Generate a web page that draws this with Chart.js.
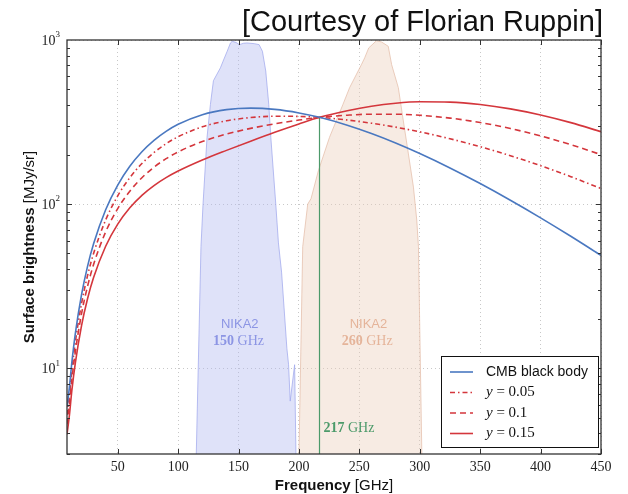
<!DOCTYPE html>
<html>
<head>
<meta charset="utf-8">
<script src="https://cdn.jsdelivr.net/npm/chart.js@4.4.1/dist/chart.umd.min.js"></script>
<style>
  html, body { margin: 0; padding: 0; background: #fff; }
</style>
</head>
<body>
<canvas id="sedChart" width="628" height="494"></canvas>
<script>
// frequencies in GHz, brightness in MJy/sr
const freqs = [8, 10, 12, 15, 20, 25, 30, 40, 50, 60, 70, 80, 90, 100, 120, 140, 160, 180, 200, 217, 240, 260, 280, 300, 325, 350, 375, 400, 425, 450];
const cmbBody = [5.8, 7.67, 10.84, 16.48, 27.98, 41.71, 57.27, 92.40, 130.7, 169.95, 208.38, 244.56, 277.47, 306.41, 350.70, 376.23, 384.26, 377.56, 359.48, 337.8, 302.43, 269.18, 235.66, 203.36, 166.16, 133.47, 105.61, 82.49, 63.68, 48.66];
const sz005 = [5.2, 6.84, 9.66, 14.62, 24.70, 36.64, 50.07, 80.06, 112.29, 144.93, 176.60, 206.26, 233.28, 257.28, 295.67, 321.66, 336.81, 343.08, 342.31, 337.8, 325.27, 311.15, 294.36, 275.58, 250.20, 223.75, 197.19, 171.38, 146.99, 124.49];
const sz01 = [4.55, 6.00, 8.48, 12.75, 21.41, 31.57, 42.87, 67.71, 93.89, 119.92, 144.82, 167.96, 189.09, 208.15, 240.63, 267.09, 289.36, 308.60, 325.13, 337.8, 348.10, 353.12, 353.06, 347.79, 334.24, 314.03, 288.77, 260.28, 230.30, 200.32];
const sz015 = [3.95, 5.17, 7.30, 10.89, 18.13, 26.49, 35.67, 55.37, 75.48, 94.91, 113.05, 129.67, 144.89, 159.02, 185.59, 212.52, 241.91, 274.12, 307.95, 337.8, 370.94, 395.10, 411.77, 420.01, 418.28, 404.31, 380.35, 349.18, 313.60, 276.15];

// NIKA2 bandpasses (arbitrary units, drawn on the same axis)
const band150Freq = [115, 118.9, 120.6, 123.9, 126.7, 129.2, 135, 137.2, 140.6, 143.3, 144.75, 148, 150.8, 154, 157, 163, 167, 169.75, 172.5, 175, 176.7, 180.8, 183, 185.6, 190, 191.4, 192.75, 196.4, 197.5];
const band150Val = [3, 55, 100, 255, 405, 565, 677, 743, 854, 959, 982, 965, 937, 955, 959, 950, 937, 854, 647, 405, 255, 100, 58, 38.5, 13.2, 10.5, 6.3, 10.5, 3];
const band260Freq = [200, 203.1, 207.25, 210, 216.1, 225.25, 236.4, 241.9, 251.7, 254.4, 257.75, 264.2, 268.3, 273.9, 276.7, 282.25, 286.4, 290.6, 294.75, 297.5, 298.9, 301.7];
const band260Val = [3, 55, 100, 108, 160, 255, 405, 512, 708, 778, 895, 990, 973, 916, 708, 512, 321, 202, 127, 80, 55, 3];

const nullFreq = 217;
const nullLine = [337.8, 3];

const xTicks = [50, 100, 150, 200, 250, 300, 350, 400, 450];
const yTicks = [10, 100, 1000];
const yExp = ['1', '2', '3'];

const blue = '#4a78c0';
const red = '#d4363c';
const green = '#4c9a6a';
const serif = '"Liberation Serif", serif';
const sans = '"Liberation Sans", Arial, sans-serif';

const xy = (xs, ys) => xs.map((x, i) => ({ x: x, y: ys[i] }));

function mixedText(ctx, parts, x, y, align) {
  let w = 0;
  parts.forEach(p => { ctx.font = p[1]; w += ctx.measureText(p[0]).width; });
  let cx = align === 'center' ? x - w / 2 : (align === 'right' ? x - w : x);
  ctx.textAlign = 'left';
  parts.forEach(p => {
    ctx.font = p[1];
    ctx.fillText(p[0], cx, y);
    cx += ctx.measureText(p[0]).width;
  });
}

const decor = {
  id: 'decor',
  afterDatasetsDraw(chart) {
    const ctx = chart.ctx;
    const xs = chart.scales.x, ys = chart.scales.y;
    ctx.save();
    ctx.textBaseline = 'middle';
    // band labels
    ctx.fillStyle = '#8c95e4';
    ctx.font = '13px ' + sans;
    ctx.textAlign = 'center';
    ctx.fillText('NIKA2', xs.getPixelForValue(151), 324);
    mixedText(ctx, [['150', 'bold 14px ' + serif], [' GHz', '14px ' + serif]], xs.getPixelForValue(150), 341, 'center');
    ctx.fillStyle = '#e5b49a';
    ctx.font = '13px ' + sans;
    ctx.textAlign = 'center';
    ctx.fillText('NIKA2', xs.getPixelForValue(257.5), 324);
    mixedText(ctx, [['260', 'bold 14px ' + serif], [' GHz', '14px ' + serif]], xs.getPixelForValue(256.5), 341, 'center');
    ctx.fillStyle = green;
    mixedText(ctx, [['217', 'bold 14px ' + serif], [' GHz', '14px ' + serif]], xs.getPixelForValue(nullFreq) + 4, 428, 'left');
    ctx.restore();
  },
  afterDraw(chart) {
    const ctx = chart.ctx;
    const a = chart.chartArea;
    const xs = chart.scales.x, ys = chart.scales.y;
    ctx.save();
    ctx.strokeStyle = '#333';
    ctx.lineWidth = 1;
    // ticks on all four sides, pointing inward
    ctx.beginPath();
    xTicks.forEach(v => {
      const px = Math.round(xs.getPixelForValue(v)) + 0.5;
      ctx.moveTo(px, a.bottom); ctx.lineTo(px, a.bottom - 5);
      ctx.moveTo(px, a.top); ctx.lineTo(px, a.top + 5);
    });
    for (let d = 1; d <= 100; d *= 10) {
      for (let m = 1; m < 10; m++) {
        const v = m * d;
        if (v < 3 || v > 1000) continue;
        const py = Math.round(ys.getPixelForValue(v)) + 0.5;
        const len = m === 1 ? 5 : 3;
        ctx.moveTo(a.left, py); ctx.lineTo(a.left + len, py);
        ctx.moveTo(a.right, py); ctx.lineTo(a.right - len, py);
      }
    }
    ctx.stroke();
    ctx.lineWidth = 1.3;
    ctx.strokeRect(a.left, a.top, a.right - a.left, a.bottom - a.top);

    // y tick labels with exponents
    ctx.fillStyle = '#222';
    ctx.textBaseline = 'middle';
    yTicks.forEach((v, i) => {
      const py = ys.getPixelForValue(v);
      ctx.font = '9px ' + serif;
      const ew = ctx.measureText(yExp[i]).width;
      ctx.textAlign = 'right';
      ctx.fillText(yExp[i], a.left - 7, py - 5);
      ctx.font = '14px ' + serif;
      ctx.fillText('10', a.left - 7 - ew, py + 1);
    });

    // axis titles
    ctx.fillStyle = '#111';
    mixedText(ctx, [['Frequency', 'bold 15px ' + sans], [' [GHz]', '15px ' + sans]], (a.left + a.right) / 2, 486, 'center');
    ctx.save();
    ctx.translate(30, (a.top + a.bottom) / 2);
    ctx.rotate(-Math.PI / 2);
    mixedText(ctx, [['Surface brightness', 'bold 15px ' + sans], [' [MJy/sr]', '15px ' + sans]], 0, 0, 'center');
    ctx.restore();

    // courtesy line
    ctx.font = '29px ' + sans;
    ctx.textAlign = 'right';
    ctx.textBaseline = 'alphabetic';
    ctx.fillStyle = '#111';
    ctx.fillText('[Courtesy of Florian Ruppin]', 603, 31);

    // legend
    const lx = 441, ly = 356, lw = 157, lh = 91;
    ctx.fillStyle = '#fff';
    ctx.fillRect(lx, ly, lw, lh);
    ctx.strokeStyle = '#111';
    ctx.lineWidth = 1;
    ctx.strokeRect(lx + 0.5, ly + 0.5, lw, lh);
    const rows = [
      { color: blue, dash: [], text: [['CMB black body', '14px ' + sans]] },
      { color: red, dash: [5, 3, 1.5, 3], text: [['y', 'italic 15px ' + serif], [' = 0.05', '15px ' + serif]] },
      { color: red, dash: [6, 4], text: [['y', 'italic 15px ' + serif], [' = 0.1', '15px ' + serif]] },
      { color: red, dash: [], text: [['y', 'italic 15px ' + serif], [' = 0.15', '15px ' + serif]] }
    ];
    ctx.textBaseline = 'middle';
    rows.forEach((r, i) => {
      const ry = ly + 16 + i * 20.5;
      ctx.strokeStyle = r.color;
      ctx.lineWidth = 1.6;
      ctx.setLineDash(r.dash);
      ctx.beginPath();
      ctx.moveTo(lx + 9, ry); ctx.lineTo(lx + 32, ry);
      ctx.stroke();
      ctx.setLineDash([]);
      ctx.fillStyle = '#111';
      mixedText(ctx, r.text, lx + 45, ry, 'left');
    });
    ctx.restore();
  }
};

const curve = (label, values, dash, color, order) => ({
  label: label,
  data: xy(freqs, values),
  borderColor: color,
  borderWidth: 1.6,
  borderDash: dash,
  pointRadius: 0,
  fill: false,
  cubicInterpolationMode: 'monotone',
  order: order
});

new Chart(document.getElementById('sedChart').getContext('2d'), {
  type: 'line',
  data: {
    datasets: [
      curve('CMB black body', cmbBody, [], blue, 1),
      curve('y = 0.05', sz005, [5, 3, 1.5, 3], red, 1),
      curve('y = 0.1', sz01, [6, 4], red, 1),
      curve('y = 0.15', sz015, [], red, 1),
      {
        label: '217 GHz',
        data: xy([nullFreq, nullFreq], nullLine),
        borderColor: green,
        borderWidth: 1.2,
        pointRadius: 0,
        order: 2
      },
      {
        label: 'NIKA2 150 GHz',
        data: xy(band150Freq, band150Val),
        fill: 'start',
        backgroundColor: 'rgba(175, 182, 240, 0.4)',
        borderColor: 'rgba(160, 168, 236, 0.75)',
        borderWidth: 1,
        pointRadius: 0,
        order: 5
      },
      {
        label: 'NIKA2 260 GHz',
        data: xy(band260Freq, band260Val),
        fill: 'start',
        backgroundColor: 'rgba(236, 204, 186, 0.4)',
        borderColor: 'rgba(228, 190, 170, 0.75)',
        borderWidth: 1,
        pointRadius: 0,
        order: 5
      }
    ]
  },
  options: {
    responsive: false,
    animation: false,
    layout: { padding: { top: 40, right: 27, left: 0, bottom: 0 } },
    plugins: { legend: { display: false }, tooltip: { enabled: false } },
    scales: {
      x: {
        type: 'linear',
        min: 8,
        max: 450,
        afterBuildTicks: s => { s.ticks = xTicks.map(v => ({ value: v })); },
        afterFit: s => { s.height = 40; },
        grid: { color: '#c8c8c8', lineWidth: 1, drawTicks: false },
        border: { display: false, dash: [1, 3] },
        ticks: { color: '#222', font: { family: 'Liberation Serif', size: 14 }, padding: 5, maxRotation: 0 }
      },
      y: {
        type: 'logarithmic',
        min: 3,
        max: 1000,
        afterBuildTicks: s => { s.ticks = yTicks.map(v => ({ value: v })); },
        afterFit: s => { s.width = 67; },
        grid: { color: '#c8c8c8', lineWidth: 1, drawTicks: false },
        border: { display: false, dash: [1, 3] },
        ticks: { display: false }
      }
    }
  },
  plugins: [decor]
});
</script>
</body>
</html>
